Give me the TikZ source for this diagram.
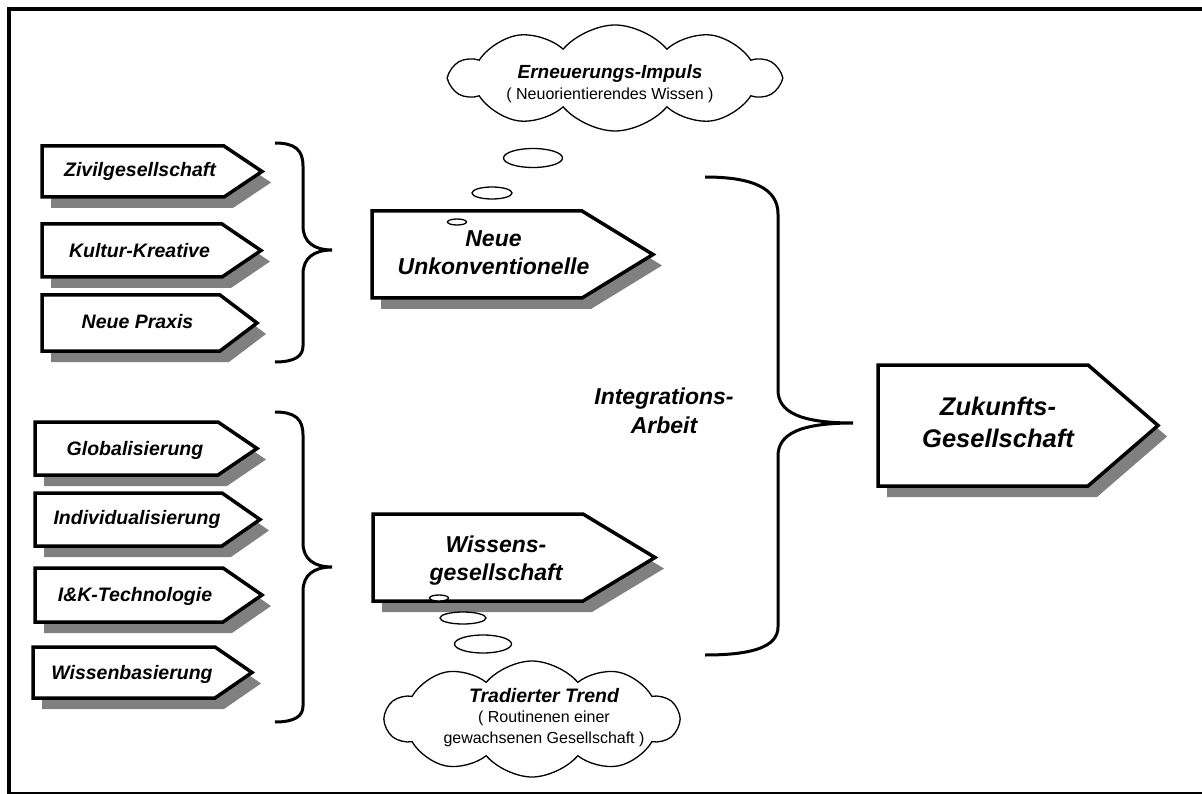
\documentclass[tikz,border=0pt]{standalone}
\usepackage{fontspec}
\setmainfont{Liberation Sans}
\usetikzlibrary{shapes.geometric,shapes.symbols}

\tikzset{
  shadowfill/.style={fill=black!50},
  boxline/.style={draw=black, fill=white, line width=3.5pt, line join=miter},
  bracestyle/.style={draw=black, line width=3pt},
  bubble/.style={ellipse, draw=black, fill=white, line width=1.3pt, inner sep=0pt},
  cloudshape/.style={cloud, cloud puffs=10, cloud puff arc=100, cloud ignores aspect, draw=black, fill=white, line width=1.3pt, inner sep=0pt},
  smalltag/.style={font=\fontsize{19.5}{23}\selectfont\bfseries\itshape, anchor=base, inner sep=0pt},
  midtag/.style={font=\fontsize{23}{28.5}\selectfont\bfseries\itshape, align=center, anchor=north, inner sep=0pt},
  bigtag/.style={font=\fontsize{25.5}{32}\selectfont\bfseries\itshape, align=center, anchor=north, inner sep=0pt},
  cloudtext/.style={font=\fontsize{16}{20.5}\selectfont, align=center, anchor=north, inner sep=0pt},
}

\newcommand{\tagshape}[5]{%
  \fill[shadowfill] ({#1+9},{#2+11}) -- ({#3+9},{#2+11}) -- ({#4+9},{(#2+#5)/2+11}) -- ({#3+9},{#5+11}) -- ({#1+9},{#5+11}) -- cycle;
  \filldraw[boxline] (#1,#2) -- (#3,#2) -- (#4,{(#2+#5)/2}) -- (#3,#5) -- (#1,#5) -- cycle;
}

\begin{document}
\begin{tikzpicture}[x=1pt,y=-1pt]
\useasboundingbox (0,0) rectangle (1202,794);
\fill[white] (0,0) rectangle (1202,794);

% frame
\draw[line width=4pt] (7,9) -- (1202,9);
\draw[line width=4pt] (9,7) -- (9,794);
\draw[line width=2pt] (7,792.5) -- (1202,792.5);

% left group 1
\tagshape{42}{146}{224}{262}{197}
\node[smalltag] (zivil) at (140,177) {Zivilgesellschaft};
\tagshape{42}{224}{222}{261}{277}
\node[smalltag] (kultur) at (139.5,258) {Kultur-Kreative};
\tagshape{42}{295}{220}{257}{351}
\node[smalltag] (praxis) at (137.5,328.5) {Neue Praxis};

% left group 2
\tagshape{35}{422}{218}{257}{475}
\node[smalltag] (global) at (135,455) {Globalisierung};
\tagshape{35}{493}{222}{260}{546}
\node[smalltag] (indiv) at (137,524) {Individualisierung};
\tagshape{35}{568}{223}{262}{622}
\node[smalltag] (iuk) at (135,601.5) {I\&K-Technologie};
\tagshape{33}{647}{215}{252}{698}
\node[smalltag] (wbas) at (132,679) {Wissenbasierung};

% middle arrows
\tagshape{372}{211}{582}{653}{298}
\node[midtag] (neu) at (493.5,230) {Neue\\Unkonventionelle};
\tagshape{373}{514}{583}{655}{601}
\node[midtag] (wiss) at (496,535.5) {Wissens-\\gesellschaft};

% right arrow
\tagshape{878}{365}{1088}{1158}{486}
\node[bigtag] (zukunft) at (998,396.7) {Zukunfts-\\Gesellschaft};

% integration label
\node[midtag] (integ) at (664,388) {Integrations-\\Arbeit};

% braces
\coordinate (b1top) at (275,143);
\coordinate (b1tip) at (332,250);
\coordinate (b1bot) at (275,362);
\draw[bracestyle] (b1top) .. controls (295,143) and (303,150) .. (303,166) -- (303,226)
  .. controls (303,242) and (314,250) .. (b1tip)
  .. controls (314,250) and (303,258) .. (303,274) -- (303,346)
  .. controls (303,356) and (295,362) .. (b1bot);

\coordinate (b2top) at (275,412);
\coordinate (b2tip) at (332,567);
\coordinate (b2bot) at (275,722);
\draw[bracestyle] (b2top) .. controls (295,412) and (303,419) .. (303,435) -- (303,543)
  .. controls (303,559) and (314,567) .. (b2tip)
  .. controls (314,567) and (303,575) .. (303,591) -- (303,706)
  .. controls (303,716) and (295,722) .. (b2bot);

\coordinate (b3top) at (705,177);
\coordinate (b3tip) at (853,423);
\coordinate (b3bot) at (705,655);
\draw[bracestyle] (b3top) .. controls (752,177) and (778,188) .. (778,214) -- (778,390)
  .. controls (778,412) and (800,423) .. (b3tip)
  .. controls (800,423) and (778,434) .. (778,456) -- (778,627)
  .. controls (778,647) and (752,655) .. (b3bot);

% thought bubbles
\node[bubble, minimum width=59pt, minimum height=19pt] (t1) at (533,158) {};
\node[bubble, minimum width=40pt, minimum height=12pt] (t2) at (492,193) {};
\node[bubble, minimum width=19pt, minimum height=6pt] (t3) at (457,222) {};
\node[bubble, minimum width=19pt, minimum height=6pt] (u1) at (439,598) {};
\node[bubble, minimum width=46pt, minimum height=12pt] (u2) at (463,618) {};
\node[bubble, minimum width=57pt, minimum height=18pt] (u3) at (483,644) {};

% clouds
\node[cloudshape, minimum width=328pt, minimum height=106pt] (cloudA) at (615,78) {};
\node[cloudtext] (impuls) at (610,65) {{\fontsize{19}{20.5}\selectfont\bfseries\itshape Erneuerungs-Impuls}\\( Neuorientierendes Wissen )};

\node[cloudshape, minimum width=293pt, minimum height=116pt] (cloudB) at (532,719) {};
\node[cloudtext] (trend) at (544,688) {{\fontsize{19.5}{20.5}\selectfont\bfseries\itshape Tradierter Trend}\\( Routinenen einer\\gewachsenen Gesellschaft )};
\end{tikzpicture}
\end{document}
